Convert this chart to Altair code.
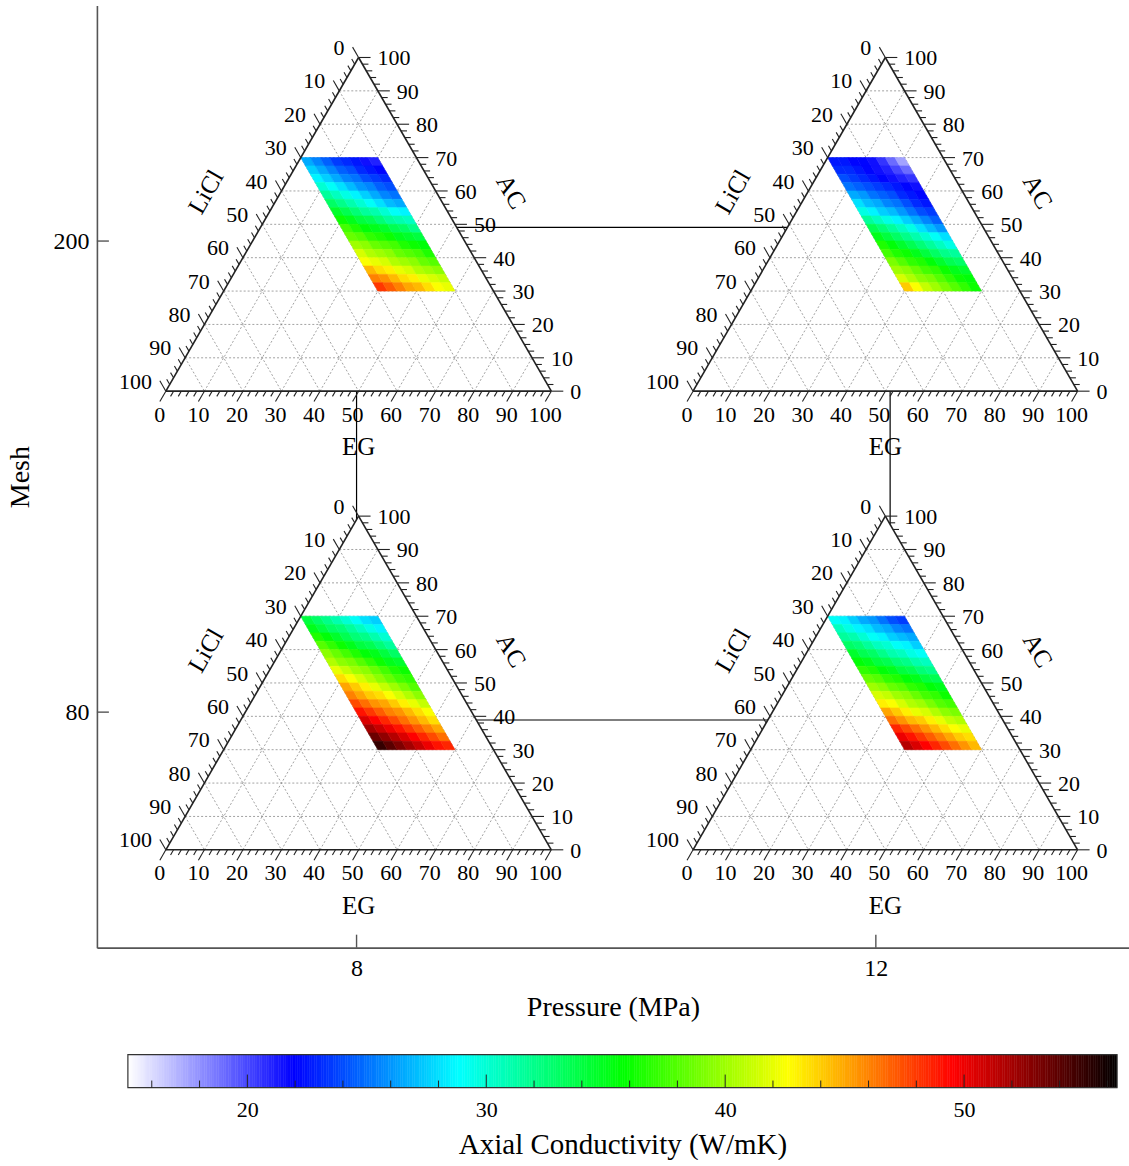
import altair as alt
import pandas as pd

# ---------------- data ----------------
pressure_ticks = [8, 12]
mesh_ticks = [80, 200]

# connecting frame between the four ternary diagrams (pressure, mesh)
conn_pressure = [8.0, 12.11, 12.11, 8.0, 8.0]
conn_mesh = [203.5, 203.5, 78.0, 78.0, 203.5]

# AC cell edges (top to bottom) and LiCl cell edges (left to right) of the coloured region
ac_edges = [70.0, 67.5, 65.0, 62.5, 60.0, 57.5, 55.0, 52.5, 50.0, 47.5, 45.0, 42.5, 40.0, 37.5, 35.0, 32.5, 30.0]
licl_edges = [30.0, 27.5, 25.0, 22.5, 20.0, 17.5, 15.0, 12.5, 10.0]

# axial conductivity (W/mK); rows = AC bands from 70 (top) to 30 (bottom), cols = LiCl 30 -> 10
cond_8_200 = [
    [26.5, 25.5, 24.5, 23.5, 23.0, 22.5, 21.5, 21.0],
    [27.5, 26.5, 25.5, 24.5, 24.0, 23.0, 22.5, 22.0],
    [28.5, 27.5, 26.5, 25.5, 25.0, 24.0, 23.5, 23.0],
    [30.0, 29.0, 28.0, 27.0, 26.0, 25.5, 24.5, 24.0],
    [31.5, 30.5, 29.5, 28.5, 27.5, 26.5, 25.5, 25.0],
    [33.0, 32.0, 31.0, 30.0, 29.0, 28.0, 27.0, 26.5],
    [34.5, 33.5, 32.5, 31.5, 31.0, 30.0, 29.0, 28.5],
    [36.0, 35.0, 34.0, 33.5, 32.5, 31.5, 31.0, 30.5],
    [37.5, 36.5, 35.5, 35.0, 34.5, 33.5, 33.0, 32.0],
    [38.5, 38.0, 37.0, 36.5, 36.0, 35.0, 34.5, 34.0],
    [40.0, 39.5, 38.5, 38.0, 37.5, 36.5, 36.0, 35.5],
    [41.5, 40.5, 40.0, 39.5, 38.5, 38.0, 37.5, 36.5],
    [42.5, 42.0, 41.5, 40.5, 40.0, 39.5, 38.5, 38.0],
    [44.5, 43.5, 43.0, 42.0, 41.5, 40.5, 40.0, 39.5],
    [46.0, 45.5, 44.5, 43.5, 43.0, 42.0, 41.5, 41.0],
    [48.0, 47.0, 46.0, 45.0, 44.5, 43.5, 42.5, 42.0],
]
cond_12_200 = [
    [22.5, 22.5, 22.0, 22.0, 21.5, 20.5, 19.0, 17.5],
    [23.0, 23.0, 22.5, 22.0, 21.5, 21.0, 20.0, 19.0],
    [24.0, 23.5, 23.0, 22.5, 22.0, 21.5, 21.0, 20.5],
    [25.0, 24.5, 24.0, 23.5, 23.0, 22.5, 22.0, 21.5],
    [26.5, 26.0, 25.0, 24.5, 24.0, 23.0, 22.5, 22.0],
    [28.0, 27.0, 26.5, 25.5, 25.0, 24.0, 23.0, 22.5],
    [29.5, 28.5, 27.5, 27.0, 26.0, 25.0, 24.0, 23.5],
    [31.5, 30.5, 29.5, 28.5, 27.5, 26.5, 25.5, 24.5],
    [33.5, 32.5, 31.5, 30.5, 29.5, 28.0, 27.0, 26.0],
    [35.0, 34.0, 33.0, 32.0, 31.0, 30.0, 29.0, 28.0],
    [36.5, 35.5, 34.5, 33.5, 32.5, 31.5, 30.5, 29.5],
    [37.5, 36.5, 36.0, 35.0, 34.0, 33.0, 32.0, 31.5],
    [39.0, 38.0, 37.0, 36.5, 35.5, 34.5, 33.5, 33.0],
    [40.0, 39.5, 38.5, 37.5, 37.0, 36.0, 35.0, 34.5],
    [41.5, 40.5, 39.5, 39.0, 38.0, 37.0, 36.0, 35.5],
    [44.0, 42.5, 41.0, 40.0, 39.0, 38.0, 37.0, 36.0],
]
cond_8_80 = [
    [34.0, 33.0, 32.0, 31.0, 30.0, 29.0, 28.0, 27.5],
    [35.0, 34.0, 33.0, 32.5, 31.5, 30.5, 29.5, 28.5],
    [36.5, 35.5, 34.5, 33.5, 32.5, 32.0, 31.0, 30.0],
    [38.0, 37.0, 36.0, 35.0, 34.0, 33.5, 32.5, 31.5],
    [39.5, 38.5, 37.5, 36.5, 35.5, 35.0, 34.0, 33.0],
    [40.5, 39.5, 39.0, 38.0, 37.0, 36.0, 35.0, 34.5],
    [42.0, 41.0, 40.0, 39.5, 38.5, 37.5, 36.5, 36.0],
    [43.5, 42.5, 41.5, 40.5, 39.5, 38.5, 37.5, 37.0],
    [45.0, 44.0, 43.0, 42.0, 41.0, 40.0, 39.0, 38.0],
    [46.0, 45.0, 44.0, 43.5, 42.5, 41.5, 40.5, 39.5],
    [47.5, 46.5, 45.5, 45.0, 44.0, 43.0, 42.0, 41.0],
    [49.0, 48.0, 47.0, 46.0, 45.5, 44.5, 43.5, 42.5],
    [50.5, 49.5, 48.5, 47.5, 46.5, 45.5, 44.5, 43.5],
    [52.0, 51.0, 50.0, 49.0, 48.0, 47.0, 46.0, 45.0],
    [53.5, 52.5, 51.5, 50.5, 49.5, 48.5, 47.5, 46.5],
    [55.0, 54.0, 53.0, 52.0, 51.0, 50.0, 49.0, 48.5],
]
cond_12_80 = [
    [29.0, 28.5, 27.5, 26.5, 26.0, 25.0, 24.0, 23.5],
    [30.5, 29.5, 28.5, 28.0, 27.0, 26.5, 25.5, 25.0],
    [31.5, 31.0, 30.0, 29.0, 28.5, 27.5, 27.0, 26.5],
    [33.0, 32.5, 31.5, 30.5, 30.0, 29.0, 28.5, 27.5],
    [34.5, 33.5, 33.0, 32.0, 31.0, 30.5, 29.5, 29.0],
    [35.5, 35.0, 34.0, 33.5, 32.5, 32.0, 31.0, 30.5],
    [37.0, 36.5, 35.5, 35.0, 34.0, 33.5, 32.5, 32.0],
    [38.5, 38.0, 37.0, 36.5, 35.5, 35.0, 34.0, 33.5],
    [40.0, 39.5, 38.5, 38.0, 37.0, 36.5, 35.5, 35.0],
    [41.5, 41.0, 40.0, 39.5, 38.5, 37.5, 37.0, 36.0],
    [43.0, 42.5, 41.5, 40.5, 40.0, 39.0, 38.0, 37.5],
    [45.0, 44.0, 43.0, 42.0, 41.5, 40.5, 39.5, 39.0],
    [46.5, 45.5, 44.5, 44.0, 43.0, 42.0, 41.0, 40.5],
    [48.5, 47.5, 46.5, 45.5, 44.5, 43.5, 42.5, 42.0],
    [50.0, 49.0, 48.0, 47.0, 46.0, 45.0, 44.0, 43.5],
    [51.5, 50.5, 49.5, 48.5, 47.5, 46.5, 45.5, 44.5],
]
panel_cond = [cond_8_200, cond_12_200, cond_8_80, cond_12_80]

grid_levels = [10, 20, 30, 40, 50, 60, 70, 80, 90]
tick_levels = list(range(0, 101, 2))

# colour bar
cmap_stops = [15.0, 21.9, 28.8, 35.7, 42.6, 49.5, 56.4]
cmap_colors = ["#ffffff", "#0000ff", "#00ffff", "#00ff00", "#ffff00", "#ff0000", "#000000"]
cb_major = [20, 30, 40, 50]
cb_minor = [16, 18, 22, 24, 26, 28, 32, 34, 36, 38, 42, 44, 46, 48, 52, 54, 56]

# ---------------- layout (placement of the ternary frames) ----------------
X_DOM = [6.0, 13.95]
Y_DOM = [20.0, 260.0]
W, H = 1033, 943
PX_X = W / (X_DOM[1] - X_DOM[0])
PX_Y = H / (Y_DOM[1] - Y_DOM[0])
tri_left = [6.531, 10.592, 6.531, 10.592]
tri_side = [2.969, 2.962, 2.969, 2.962]
tri_base = [161.76, 161.76, 44.93, 44.93]
tri_height = [85.0, 85.0, 85.0, 85.0]

FONT = "Liberation Serif"


def tern(p, eg, ac):
    return (tri_left[p] + tri_side[p] * (eg / 100 + ac / 200),
            tri_base[p] + tri_height[p] * ac / 100)


xs = alt.Scale(domain=X_DOM, nice=False, zero=False)
ys = alt.Scale(domain=Y_DOM, nice=False, zero=False)
cscale = alt.Scale(domain=cmap_stops, range=cmap_colors, interpolate="rgb")

axis_x = alt.Axis(values=pressure_ticks, title="Pressure (MPa)", ticks=False, tickSize=0, grid=False,
                  labelFontSize=24, titleFontSize=28, labelPadding=9, titlePadding=13,
                  domainColor="#555555", domainWidth=1.6, labelColor="black", titleColor="black",
                  titleFontWeight="normal", labelFont=FONT, titleFont=FONT)
axis_y = alt.Axis(values=mesh_ticks, title="Mesh", ticks=False, tickSize=0, grid=False,
                  labelFontSize=24, titleFontSize=28, labelPadding=8, titlePadding=18,
                  domainColor="#555555", domainWidth=1.6, labelColor="black", titleColor="black",
                  titleFontWeight="normal", labelFont=FONT, titleFont=FONT)


def X(f):
    return alt.X(f"{f}:Q", scale=xs, axis=axis_x)


def Y(f):
    return alt.Y(f"{f}:Q", scale=ys, axis=axis_y)


# ---------------- build tables ----------------
tri_rows, grid_rows, edge_rows, tick_rows = [], [], [], []
lab_b, lab_l, lab_r, tit_eg, tit_li, tit_ac = [], [], [], [], [], []
cell_rows = []
for p in range(4):
    L, R = tern(p, 0, 0), tern(p, 100, 0)
    T = tern(p, 0, 100)
    tri_rows += [dict(p=p, y=L[1], xl=L[0], xr=R[0]), dict(p=p, y=T[1], xl=T[0], xr=T[0])]
    for a, b in [(L, R), (R, T), (T, L)]:
        edge_rows.append(dict(x=a[0], y=a[1], x2=b[0], y2=b[1]))
    for c in grid_levels:
        for a, b in [(tern(p, 0, c), tern(p, 100 - c, c)),
                     (tern(p, c, 0), tern(p, c, 100 - c)),
                     (tern(p, 0, 100 - c), tern(p, 100 - c, 0))]:
            grid_rows.append(dict(x=a[0], y=a[1], x2=b[0], y2=b[1]))
    for c in tick_levels:
        ln = 12 if c % 10 == 0 else 6
        b0 = tern(p, c, 0)
        b1 = (b0[0] - 0.5 * ln / PX_X, b0[1] - 0.866 * ln / PX_Y)
        l0 = tern(p, 0, 100 - c)
        l1 = (l0[0] - 0.5 * ln / PX_X, l0[1] + 0.866 * ln / PX_Y)
        r0 = tern(p, 100 - c, c)
        r1 = (r0[0] + ln / PX_X, r0[1])
        for a, b in [(b0, b1), (l0, l1), (r0, r1)]:
            tick_rows.append(dict(x=a[0], y=a[1], x2=b[0], y2=b[1]))
        if c % 10 == 0:
            lab_b.append(dict(x=b1[0], y=b1[1], t=str(c)))
            lab_l.append(dict(x=l1[0], y=l1[1], t=str(c)))
            lab_r.append(dict(x=r1[0], y=r1[1], t=str(c)))
    bc = tern(p, 50, 0)
    tit_eg.append(dict(x=bc[0], y=bc[1], t="EG"))
    lm = tern(p, 0, 50)
    tit_li.append(dict(x=lm[0] - 65 * 0.866 / PX_X, y=lm[1] + 65 * 0.5 / PX_Y, t="LiCl"))
    rm = tern(p, 50, 50)
    tit_ac.append(dict(x=rm[0] + 65 * 0.866 / PX_X, y=rm[1] + 65 * 0.5 / PX_Y, t="AC"))
    for r in range(len(ac_edges) - 1):
        for c in range(len(licl_edges) - 1):
            v = panel_cond[p][r][c]
            cid = f"{p}-{r}-{c}"
            for ac in (ac_edges[r + 1], ac_edges[r]):
                lo = tern(p, 100 - licl_edges[c] - ac, ac)
                hi = tern(p, 100 - licl_edges[c + 1] - ac, ac)
                cell_rows.append(dict(cell=cid, y=lo[1], xl=lo[0], xr=hi[0], v=v))

conn_df = pd.DataFrame(dict(p=conn_pressure, m=conn_mesh, i=list(range(len(conn_mesh)))))

# ---------------- main layered chart ----------------
conn = alt.Chart(conn_df).mark_line(color="black", strokeWidth=1.2).encode(
    x=X("p"), y=Y("m"), order="i:Q")

xtick = alt.Chart(pd.DataFrame(dict(p=pressure_ticks))).mark_rule(color="#555555", strokeWidth=1.4).encode(
    x=X("p"), y=alt.value(H), y2=alt.value(H - 13))
ytick = alt.Chart(pd.DataFrame(dict(m=mesh_ticks))).mark_rule(color="#555555", strokeWidth=1.4).encode(
    y=Y("m"), x=alt.value(0), x2=alt.value(12))

tri_fill = alt.Chart(pd.DataFrame(tri_rows)).mark_area(orient="horizontal", color="white", opacity=1).encode(
    y=Y("y"), x=X("xl"), x2=alt.X2("xr:Q"), detail="p:N")

grid = alt.Chart(pd.DataFrame(grid_rows)).mark_rule(color="#8a8a8a", strokeWidth=0.8, strokeDash=[2, 2]).encode(
    x=X("x"), y=Y("y"), x2=alt.X2("x2:Q"), y2=alt.Y2("y2:Q"))

cells = alt.Chart(pd.DataFrame(cell_rows)).mark_area(orient="horizontal", strokeWidth=0.6).encode(
    y=Y("y"), x=X("xl"), x2=alt.X2("xr:Q"), detail="cell:N",
    fill=alt.Fill("v:Q", scale=cscale, legend=None),
    stroke=alt.Stroke("v:Q", scale=cscale, legend=None))

edges = alt.Chart(pd.DataFrame(edge_rows)).mark_rule(color="#222222", strokeWidth=1.6).encode(
    x=X("x"), y=Y("y"), x2=alt.X2("x2:Q"), y2=alt.Y2("y2:Q"))

ticks = alt.Chart(pd.DataFrame(tick_rows)).mark_rule(color="#222222", strokeWidth=1.1).encode(
    x=X("x"), y=Y("y"), x2=alt.X2("x2:Q"), y2=alt.Y2("y2:Q"))

txt = dict(font=FONT, fontSize=22, color="black")
lb = alt.Chart(pd.DataFrame(lab_b)).mark_text(align="center", baseline="top", dy=3, **txt).encode(
    x=X("x"), y=Y("y"), text="t:N")
ll = alt.Chart(pd.DataFrame(lab_l)).mark_text(align="right", baseline="middle", dx=-8, dy=1, **txt).encode(
    x=X("x"), y=Y("y"), text="t:N")
lr = alt.Chart(pd.DataFrame(lab_r)).mark_text(align="left", baseline="middle", dx=7, dy=1, **txt).encode(
    x=X("x"), y=Y("y"), text="t:N")
ttx = dict(font=FONT, fontSize=25, color="black")
teg = alt.Chart(pd.DataFrame(tit_eg)).mark_text(align="center", baseline="middle", dy=56, **ttx).encode(
    x=X("x"), y=Y("y"), text="t:N")
tli = alt.Chart(pd.DataFrame(tit_li)).mark_text(align="center", baseline="middle", angle=300, **ttx).encode(
    x=X("x"), y=Y("y"), text="t:N")
tac = alt.Chart(pd.DataFrame(tit_ac)).mark_text(align="center", baseline="middle", angle=60, **ttx).encode(
    x=X("x"), y=Y("y"), text="t:N")

main = alt.layer(conn, xtick, ytick, tri_fill, grid, cells, edges, ticks, lb, ll, lr, teg, tli, tac).properties(
    width=W, height=H)

# ---------------- colour bar ----------------
CB_W, CB_H = 1021, 33
cb_x = alt.Scale(domain=[cmap_stops[0] - 31 * (cmap_stops[-1] - cmap_stops[0]) / 990, cmap_stops[-1]],
                 nice=False, zero=False)
cb_axis = alt.Axis(values=cb_major, title="Axial Conductivity (W/mK)", ticks=False, tickSize=0, domain=False,
                   grid=False, labelFontSize=22, titleFontSize=29, labelPadding=12, titlePadding=10,
                   titleX=526, labelColor="black", titleColor="black", titleFontWeight="normal",
                   labelFont=FONT, titleFont=FONT)


def CX(f):
    return alt.X(f"{f}:Q", scale=cb_x, axis=cb_axis)


cb_cells = alt.Chart(alt.sequence(cmap_stops[0], cmap_stops[-1], 0.1, as_="v")).transform_calculate(
    v2="datum.v + 0.1").mark_rect(strokeWidth=0.5).encode(
    x=CX("v"), x2="v2:Q",
    fill=alt.Fill("v:Q", scale=cscale, legend=None),
    stroke=alt.Stroke("v:Q", scale=cscale, legend=None))
cb_frame = alt.Chart(pd.DataFrame(dict(lo=[cmap_stops[0]], hi=[cmap_stops[-1]]))).mark_rect(
    filled=False, stroke="#333333", strokeWidth=1.2).encode(x=CX("lo"), x2="hi:Q")
cb_maj = alt.Chart(pd.DataFrame(dict(v=cb_major))).mark_rule(color="#222222", strokeWidth=1).encode(
    x=CX("v"), y=alt.value(CB_H), y2=alt.value(CB_H - 13))
cb_min = alt.Chart(pd.DataFrame(dict(v=cb_minor))).mark_rule(color="#222222", strokeWidth=1).encode(
    x=CX("v"), y=alt.value(CB_H), y2=alt.value(CB_H - 7))
colorbar = alt.layer(cb_cells, cb_frame, cb_maj, cb_min).properties(width=CB_W, height=CB_H)

chart = alt.vconcat(main, colorbar, spacing=32).resolve_scale(fill="shared", stroke="shared").properties(
    padding={"left": 7, "top": 5, "right": 0, "bottom": 0}
).configure_view(stroke=None)

chart.save("out.html", embed_options={"renderer": "svg", "actions": False})
